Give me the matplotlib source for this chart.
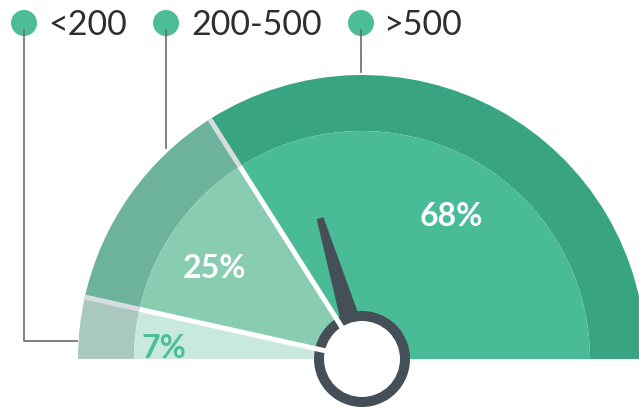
import numpy as np
import matplotlib.pyplot as plt
from matplotlib.patches import Wedge, Circle, Polygon

# gauge data
labels = ['<200', '200-500', '>500']
shares = [7, 25, 68]
outer_colors = ['#a9c8be', '#6db39b', '#39a482']
inner_colors = ['#c8e9dc', '#88cdb1', '#49bc97']
pct_colors = ['#4cbd97', 'white', 'white']
needle_angle = 106.6

W, H = 639, 409
fig = plt.figure(figsize=(W / 100, H / 100), dpi=100)
ax = fig.add_axes([0, 0, 1, 1])
ax.set_xlim(0, W)
ax.set_ylim(0, H)
ax.axis('off')

# pixel helpers (image rows go down, axes y goes up)
def Y(y):
    return H - y

cx, cy = 362, Y(359)
r_out, r_in = 284, 228

# segments, running clockwise from the left end of the half circle
bounds = 180 - np.cumsum([0] + shares) * 180 / 100
for i in range(len(shares)):
    t1, t2 = bounds[i + 1], bounds[i]
    ax.add_patch(Wedge((cx, cy), r_out, t1, t2, width=r_out - r_in,
                       facecolor=outer_colors[i], edgecolor='none'))
    ax.add_patch(Wedge((cx, cy), r_in, t1, t2,
                       facecolor=inner_colors[i], edgecolor='none'))

# separators between segments
for b in bounds[1:-1]:
    a = np.radians(b)
    ax.plot([cx, cx + r_in * np.cos(a)], [cy, cy + r_in * np.sin(a)],
            color='white', lw=3.6, solid_capstyle='butt')
    ax.plot([cx + r_in * np.cos(a), cx + r_out * np.cos(a)],
            [cy + r_in * np.sin(a), cy + r_out * np.sin(a)],
            color='#d6dcdf', lw=3.6, solid_capstyle='butt')

# percentage labels
pct_pos = [(164, 348), (215, 269), (451, 217)]
for s, (x, y), c in zip(shares, pct_pos, pct_colors):
    ax.text(x, Y(y), f'{s}%', color=c, fontsize=23, fontweight='bold',
            family='Lato', ha='center', va='center')

# needle
a = np.radians(needle_angle)
d = np.array([np.cos(a), np.sin(a)])
p = np.array([-d[1], d[0]])
c0 = np.array([cx, cy])
L = 147
pts = [c0 + p * 12, c0 + d * L + p * 3.5, c0 + d * L - p * 3.5, c0 - p * 12]
ax.add_patch(Polygon(pts, closed=True, facecolor='#454f58', edgecolor='none'))
ax.add_patch(Circle((cx, cy), 48, facecolor='#454f58', edgecolor='none'))
ax.add_patch(Circle((cx, cy), 38, facecolor='white', edgecolor='none'))

# legend dots, names and leader lines
dot_x = [24, 166, 361]
text_x = [48, 191, 383]
line_end = [[(24, 341), (77, 341)], [(166, 148)], [(361, 72)]]
for lab, dx, tx, ends in zip(labels, dot_x, text_x, line_end):
    xs = [dx] + [e[0] for e in ends]
    ys = [Y(30)] + [Y(e[1]) for e in ends]
    ax.plot(xs, ys, color='#6b6b6b', lw=1.2)
    ax.add_patch(Circle((dx, Y(23)), 13, facecolor='#4cbd97', edgecolor='none'))
    ax.text(tx, Y(25), lab, color='#2e2e2e', fontsize=24.5, fontweight='normal',
            family='Lato', ha='left', va='center')

fig.savefig('out.png', dpi=100)
